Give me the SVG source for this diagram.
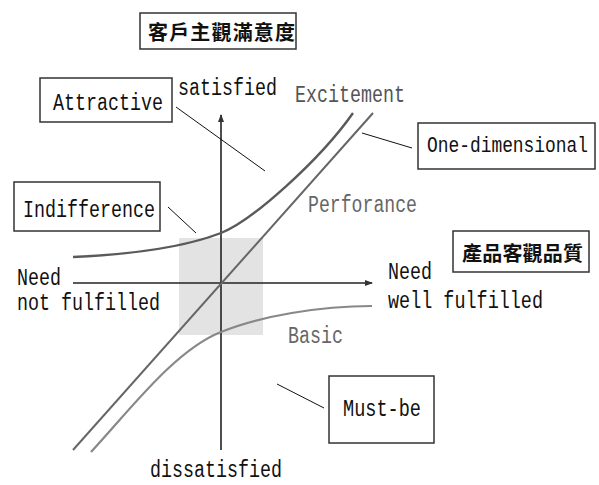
<svg xmlns="http://www.w3.org/2000/svg" width="599" height="485" viewBox="0 0 599 485">
<style>
.t{font-family:"Liberation Mono","DejaVu Sans Mono",monospace;font-size:23px;fill:#111}
.g{fill:#666}
.gd{fill:#555}
.cjk{font-family:"Noto Sans CJK TC","Noto Sans CJK SC",sans-serif;font-size:20px;font-weight:bold;fill:#111}
.box{fill:#fff;stroke:#333;stroke-width:1.5}
.lead{stroke:#111;stroke-width:1;fill:none}
.axis{stroke:#222;stroke-width:1.6;fill:none}
</style>
<defs>
<marker id="ah" markerWidth="8" markerHeight="8" refX="7" refY="4" orient="auto" markerUnits="userSpaceOnUse">
<path d="M0,1 L8,4 L0,7 Z" fill="#333"/>
</marker>
</defs>
<rect x="179" y="238" width="84" height="97" fill="#e3e3e3"/>
<g id="connectors">
<line class="axis" x1="73" y1="283" x2="372" y2="283" marker-end="url(#ah)"/>
<line class="axis" x1="221" y1="450" x2="221" y2="115" marker-end="url(#ah)"/>
<path d="M73,257 C140,254 190,245 221,233 S320,160 353,113" fill="none" stroke="#5a5a5a" stroke-width="2.4"/>
<line x1="73" y1="450" x2="373" y2="113" stroke="#666" stroke-width="2"/>
<path d="M91,452 C130,410 175,350 221,332 C260,316 320,306 372,306" fill="none" stroke="#888" stroke-width="2.2"/>
<line class="lead" x1="176" y1="107" x2="265" y2="171"/>
<line class="lead" x1="168" y1="207" x2="196" y2="233"/>
<line class="lead" x1="362" y1="133" x2="412" y2="148"/>
<line class="lead" x1="277" y1="384" x2="324" y2="408"/>
</g>
<g id="title-satisfaction">
<rect class="box" x="140" y="13" width="156" height="36"/>
<text class="cjk" x="148" y="40" textLength="147" lengthAdjust="spacing">客戶主觀滿意度</text>
</g>
<g id="title-quality">
<rect class="box" x="453" y="231" width="136" height="41"/>
<text class="cjk" x="462" y="261" textLength="121" lengthAdjust="spacing">產品客觀品質</text>
</g>
<g id="attractive">
<rect class="box" x="40" y="78" width="132" height="44"/>
<text class="t" x="53" y="110" textLength="110" lengthAdjust="spacingAndGlyphs">Attractive</text>
</g>
<g id="indifference">
<rect class="box" x="14" y="182" width="146" height="49"/>
<text class="t" x="23" y="217" textLength="132" lengthAdjust="spacingAndGlyphs">Indifference</text>
</g>
<g id="one-dimensional">
<rect class="box" x="418" y="123" width="177" height="46"/>
<text class="t" transform="translate(427,152) scale(1,1.25)" x="0" y="0" style="font-size:18px" textLength="161" lengthAdjust="spacingAndGlyphs">One-dimensional</text>
</g>
<g id="must-be">
<rect class="box" x="329" y="376" width="105" height="67"/>
<text class="t" x="343" y="416" textLength="78" lengthAdjust="spacingAndGlyphs">Must-be</text>
</g>
<g id="labels">
<text class="t" x="178" y="95" textLength="99" lengthAdjust="spacingAndGlyphs">satisfied</text>
<text class="t" x="150" y="477" textLength="132" lengthAdjust="spacingAndGlyphs">dissatisfied</text>
<text class="t" x="17" y="285" textLength="44" lengthAdjust="spacingAndGlyphs">Need</text>
<text class="t" x="17" y="310" textLength="143" lengthAdjust="spacingAndGlyphs">not fulfilled</text>
<text class="t" x="388" y="279" textLength="44" lengthAdjust="spacingAndGlyphs">Need</text>
<text class="t" x="388" y="308" textLength="155" lengthAdjust="spacingAndGlyphs">well fulfilled</text>
<text class="t gd" x="295" y="102" textLength="110" lengthAdjust="spacingAndGlyphs">Excitement</text>
<text class="t g" x="308" y="212" textLength="109" lengthAdjust="spacingAndGlyphs">Perforance</text>
<text class="t g" x="288" y="343" textLength="55" lengthAdjust="spacingAndGlyphs">Basic</text>
</g>
</svg>
